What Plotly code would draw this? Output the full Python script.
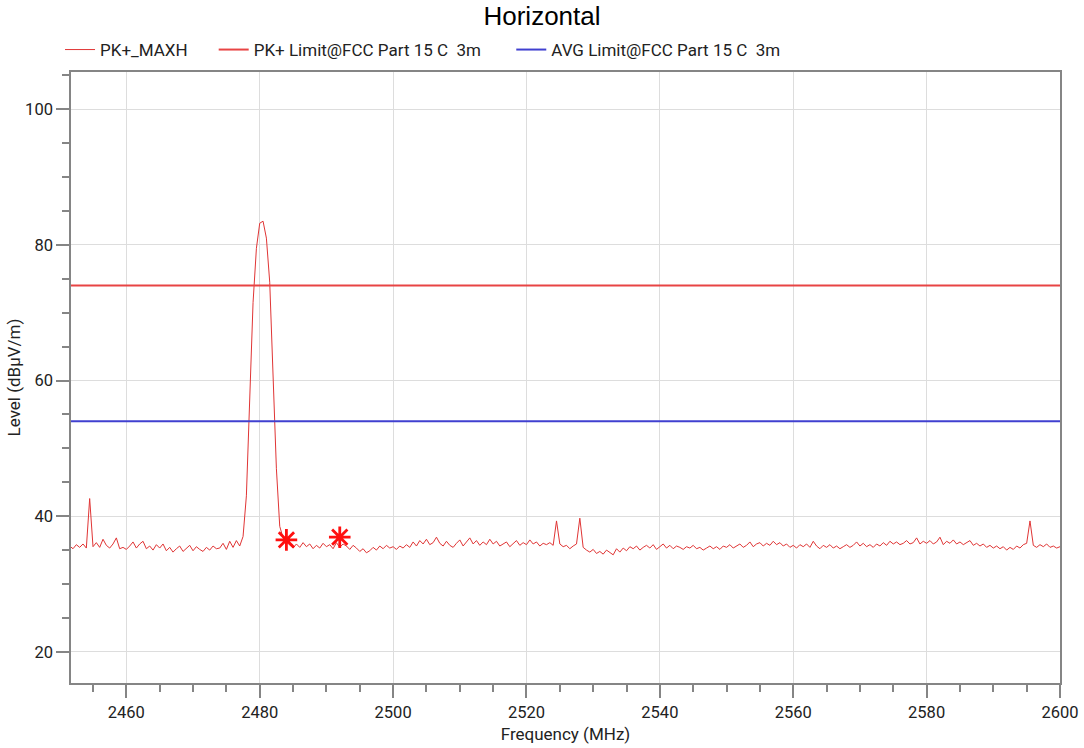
import plotly.graph_objects as go

# ---- data ----
sweep_start_mhz = 2451.5
sweep_step_mhz = 0.5

pk_maxh_level = [
    35.6, 35.2, 35.8, 35.4, 35.9, 35.3, 42.6, 35.5, 36.1, 35.4,
    36.6, 35.7, 35.3, 35.9, 36.8, 35.2, 35.4, 35.1, 35.6, 36.2,
    35.3, 35.9, 36.3, 35.2, 35.6, 35.0, 35.8, 35.3, 35.9, 34.9,
    35.4, 34.7, 35.2, 35.6, 34.8, 35.3, 35.7, 34.9, 35.5, 35.1,
    34.8, 35.4, 35.0, 35.6, 35.2, 35.3, 36.0, 35.1, 36.3, 35.4,
    36.4, 35.6, 37.0, 43.0, 58.0, 71.5, 79.5, 83.2, 83.5, 81.0,
    74.5, 61.0, 47.0, 38.5, 36.8, 36.2, 35.8, 35.3, 35.9, 35.4,
    36.1, 35.5, 35.9, 35.2, 35.7, 35.3, 36.0, 35.5, 35.8, 35.2,
    36.1, 35.4, 35.9, 35.6, 35.1, 35.7, 35.3, 34.8, 35.2, 34.6,
    34.9, 35.4, 35.0, 35.6, 35.2, 35.7, 35.3, 35.5, 35.1, 35.6,
    35.3, 35.8, 35.4, 36.2, 35.6, 36.4, 35.9, 36.6, 35.8, 36.1,
    36.9, 36.0, 35.6, 36.3, 35.7, 35.4, 36.0, 36.5, 35.6, 36.2,
    36.8, 35.9, 36.4, 35.7, 36.2, 35.8, 36.6, 35.9, 36.3, 35.6,
    35.9, 36.2, 35.5, 36.0, 36.4, 35.7, 36.1, 35.8, 36.5, 35.9,
    36.2, 35.6, 36.0, 35.8, 36.1, 35.7, 39.3, 35.9, 35.5, 35.7,
    35.2, 35.6, 35.9, 39.7, 35.4, 35.0, 34.7, 35.1, 34.5, 34.8,
    34.4, 35.0, 34.6, 34.3, 35.2, 34.7, 35.3, 34.9, 35.5, 35.2,
    35.6, 35.0, 35.4, 35.7, 35.3, 35.8, 35.1, 35.5, 35.9, 35.3,
    35.7, 35.2, 35.6, 35.4, 35.1, 35.5, 35.3, 35.7, 35.2, 35.4,
    35.0, 35.3, 35.6, 35.2, 35.5, 35.1, 35.6, 35.4, 35.8, 35.3,
    35.6, 35.9, 35.4, 35.7, 36.2, 35.5, 35.9, 36.1, 35.6, 36.0,
    35.7, 36.3, 35.8, 36.1, 35.6, 35.9, 35.4, 35.7, 35.3, 35.8,
    35.5, 35.9, 35.4, 36.3, 35.6, 35.2, 35.7, 35.4, 35.8, 35.3,
    35.6, 35.2, 35.5, 35.8, 35.4, 35.7, 36.2, 35.6, 36.0, 35.5,
    35.8, 35.4, 35.9, 35.6, 36.1, 35.7, 36.3, 35.9, 36.2, 35.8,
    36.0, 36.4, 35.9, 36.1, 36.8, 35.9, 36.3, 36.0, 36.4, 35.9,
    36.2, 36.9, 35.8, 36.3, 36.0, 36.5, 35.9, 36.2, 35.8, 36.1,
    36.4, 35.7, 36.0, 35.6, 35.9, 35.4, 35.7, 35.3, 35.6, 35.2,
    35.5, 35.0, 35.4, 35.1, 35.6, 35.3, 35.8, 36.0, 39.3, 35.7,
    35.4, 35.8, 35.5, 35.9, 35.4, 35.6, 35.3, 35.5,
]
pk_maxh_freq = [sweep_start_mhz + sweep_step_mhz * i for i in range(len(pk_maxh_level))]

limit_freq = [2451.7, 2600]
pk_limit = [74, 74]
avg_limit = [54, 54]

marker_freq = [2484.0, 2492.0]
marker_level = [36.5, 36.9]

NB = "\u00a0"
series_names = ["PK+_MAXH", "PK+ Limit@FCC Part 15 C" + NB + " 3m", "AVG Limit@FCC Part 15 C" + NB + " 3m"]
title_text = "Horizontal"
x_title = "Frequency (MHz)"
y_title = "Level (dBµV/m)"

# ---- figure ----
fig = go.Figure()
fig.add_trace(go.Scatter(x=pk_maxh_freq, y=pk_maxh_level, mode="lines",
                         name=series_names[0] + NB * 5,
                         line=dict(color="#E03535", width=1)))
fig.add_trace(go.Scatter(x=limit_freq, y=pk_limit, mode="lines",
                         name=series_names[1] + NB * 6,
                         line=dict(color="#E84444", width=2)))
fig.add_trace(go.Scatter(x=limit_freq, y=avg_limit, mode="lines",
                         name=series_names[2],
                         line=dict(color="#4040D0", width=2)))
fig.add_trace(go.Scatter(x=marker_freq, y=marker_level, mode="markers", showlegend=False,
                         marker=dict(symbol="asterisk-open", size=18, color="#FF1010",
                                     line=dict(color="#FF1010", width=2.8))))

FONT = "Roboto"
tick_font = dict(family=FONT, size=16.5, color="#222222")
title_font = dict(family=FONT, size=17, color="#222222")
axis_common = dict(showline=True, linecolor="#858585", linewidth=1.5, mirror=True,
                   showgrid=True, gridcolor="#dddddd", gridwidth=1,
                   ticks="outside", ticklen=13, tickcolor="#858585", tickwidth=1.5,
                   tickfont=tick_font, zeroline=False, automargin=False,
                   ticklabeloverflow="allow")

W, H = 1084, 748
fig.update_layout(
    width=W, height=H,
    margin=dict(l=71, r=24, t=72, b=65),
    paper_bgcolor="white", plot_bgcolor="white",
    title=dict(text=title_text, x=0.5, xref="container", xanchor="center",
               y=1 - 15.5 / H, yref="container", yanchor="middle",
               font=dict(family="Liberation Sans", size=26, color="#000000")),
    legend=dict(orientation="h", x=-0.0111, xanchor="left", y=1.036, yanchor="middle",
                font=dict(family=FONT, size=17, color="#222222"),
                bgcolor="rgba(0,0,0,0)"),
    xaxis=dict(range=[2451.7, 2600], dtick=20, tick0=2460,
               minor=dict(dtick=5, tick0=2455, ticklen=7, tickcolor="#858585", ticks="outside",
                          showgrid=False),
               title=dict(text=x_title, font=title_font, standoff=8),
               **axis_common),
    yaxis=dict(range=[15.4, 105.5], dtick=20, tick0=0,
               minor=dict(dtick=5, ticklen=7, tickcolor="#858585", ticks="outside",
                          showgrid=False),
               title=dict(text=y_title, font=title_font, standoff=0),
               **axis_common),
)

fig.write_html("out.html", config={"displayModeBar": False},
               post_script="document.body.style.margin='0';")
